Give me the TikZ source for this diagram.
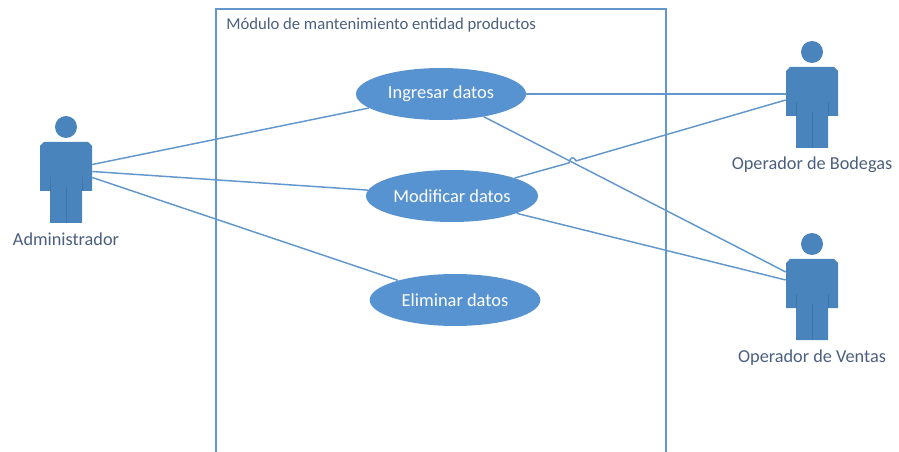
\documentclass[tikz,border=0pt]{standalone}
\usepackage{fontspec}
\setmainfont{Carlito}
\usetikzlibrary{
	shapes.geometric,   %elipses
	calc,               %anclas desplazadas
	positioning
}
\definecolor{azulCaso}{HTML}{5793D0}
\definecolor{azulActor}{HTML}{4A84BC}
\definecolor{azulBorde}{HTML}{3F75A8}
\definecolor{azulLinea}{HTML}{6197CC}
\definecolor{grisTexto}{HTML}{4A5F7E}
\tikzset{
	caso/.style={ellipse,fill=azulCaso,text=white,inner sep=0pt,minimum height=39pt,font=\fontsize{13.8}{15}\selectfont},
	etiqueta/.style={text=grisTexto,inner sep=0pt,font=\fontsize{13.7}{15}\selectfont},
	enlace/.style={draw=azulLinea,line width=1.1pt},
	actor/.pic={
		\fill[azulActor] (0,0) circle(11);
		\fill[azulActor] (-22,15)--(22,15)--(26,19)--(26,64)--(16,64)--(16,96)--(-16,96)--(-16,64)--(-26,64)--(-26,19)--cycle;
		\draw[azulBorde,line width=0.4pt] (0,60)--(0,96) (-16,50)--(-16,64) (16,50)--(16,64);
		\node[minimum width=39pt,minimum height=61.5pt,inner sep=0pt] (-body) at (0,55.5) {};
	}
}
\begin{document}
\begin{tikzpicture}[x=0.75pt,y=-0.75pt]
\useasboundingbox (0,0) rectangle (899,452);
%marco del modulo
\draw[azulLinea,line width=1pt] (216,452)--(216,9)--(666,9)--(666,452);
\node[etiqueta,anchor=west,font=\fontsize{12.5}{14}\selectfont] (modulo) at (226,25) {Módulo de mantenimiento entidad productos};
%actores
\pic (admin) at (66,127) {actor};
\pic (bodega) at (812,52) {actor};
\pic (ventas) at (812,244) {actor};
\node[etiqueta] (labadmin) at (66,239) {Administrador};
\node[etiqueta] (labbodega) at (812,165) {Operador de Bodegas};
\node[etiqueta] (labventas) at (812,358) {Operador de Ventas};
%casos de uso
\node[caso,minimum width=127.5pt] (ingresar) at (441,94) {Ingresar datos};
\node[caso,minimum width=129pt] (modificar) at (452,196) {Modificar datos};
\node[caso,minimum width=128pt] (eliminar) at (455,300) {Eliminar datos};
%enlaces del administrador
\draw[enlace] ($(admin-body.east)+(0,-18)$)--(ingresar.191);
\draw[enlace] ($(admin-body.east)+(0,-11)$)--(modificar.176);
\draw[enlace] ($(admin-body.east)+(0,-5)$)--(eliminar.161);
%enlaces de los operadores
\draw[enlace] (ingresar.east)--($(bodega-body.west)+(0,-13.5)$);
\coordinate (saltoa) at (569,162.9);
\coordinate (saltob) at (576,160.9);
\draw[enlace] (modificar.16)--(saltoa) .. controls (570,157) and (574,156) .. (saltob)--($(bodega-body.west)+(0,-7.5)$);
\draw[enlace] (ingresar.332)--($(ventas-body.west)+(0,-27.5)$);
\draw[enlace] (modificar.345)--($(ventas-body.west)+(0,-19.5)$);
\end{tikzpicture}
\end{document}
